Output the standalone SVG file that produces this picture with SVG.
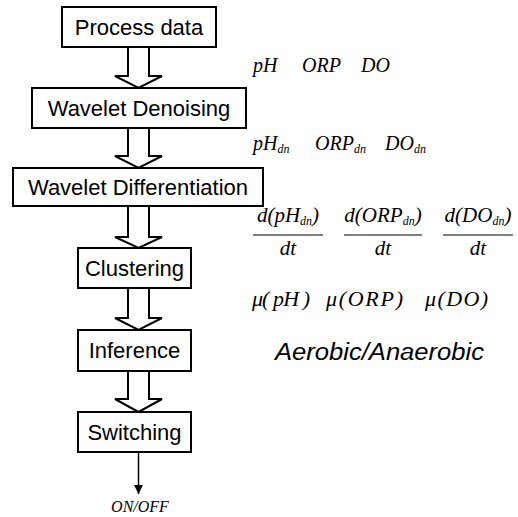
<svg xmlns="http://www.w3.org/2000/svg" width="518" height="517" viewBox="0 0 518 517">
  <style>
    .box { fill: #fff; stroke: #000; stroke-width: 2; }
    .lbl { font-family: "Liberation Sans", Arial, sans-serif; font-size: 22px; text-anchor: middle; fill: #000; }
    .blk { fill: #fff; stroke: #000; stroke-width: 2; stroke-linejoin: miter; }
    .math { font-family: "Liberation Serif", "Times New Roman", serif; font-style: italic; font-size: 20px; fill: #000; }
    .mu { font-size: 22px; }
    .sub { font-size: 12px; }
    .up { font-family: "Liberation Serif", "Times New Roman", serif; font-style: italic; font-size: 21px; text-anchor: middle; }
    .frac { stroke: #000; stroke-width: 1.2; }
    .state { font-family: "Liberation Sans", Arial, sans-serif; font-style: italic; font-size: 23px; fill: #000; }
  </style>
  <defs>
    <marker id="tip" viewBox="0 0 10 10" refX="10" refY="5" markerWidth="9" markerHeight="9" markerUnits="userSpaceOnUse" orient="auto">
      <path d="M0,0 L10,5 L0,10 z" fill="#000"/>
    </marker>
  </defs>

  <!-- block arrows between stages -->
  <g id="connectors">
    <polygon class="blk" points="128,47 149,47 149,76 162,76 138.5,88 115,76 128,76"/>
    <polygon class="blk" points="128,128 149,128 149,156 162,156 138.5,168 115,156 128,156"/>
    <polygon class="blk" points="128,206 149,206 149,237 162,237 138.5,248 115,237 128,237"/>
    <polygon class="blk" points="128,288 149,288 149,318 162,318 138.5,330 115,318 128,318"/>
    <polygon class="blk" points="128,371 149,371 149,399 162,399 138.5,412 115,399 128,399"/>
    <line x1="138.5" y1="452" x2="138.5" y2="494" stroke="#000" stroke-width="1.5" marker-end="url(#tip)"/>
  </g>

  <g id="process-data">
    <rect class="box" x="62" y="7" width="154" height="40"/>
    <text class="lbl" x="139" y="35">Process data</text>
  </g>
  <g id="wavelet-denoising">
    <rect class="box" x="32" y="88" width="214" height="40"/>
    <text class="lbl" x="139" y="116">Wavelet Denoising</text>
  </g>
  <g id="wavelet-differentiation">
    <rect class="box" x="13" y="168" width="250" height="38"/>
    <text class="lbl" x="138" y="195">Wavelet Differentiation</text>
  </g>
  <g id="clustering">
    <rect class="box" x="78" y="248" width="113" height="40"/>
    <text class="lbl" x="134.5" y="276">Clustering</text>
  </g>
  <g id="inference">
    <rect class="box" x="78" y="330" width="113" height="41"/>
    <text class="lbl" x="134.5" y="358">Inference</text>
  </g>
  <g id="switching">
    <rect class="box" x="78" y="412" width="113" height="40"/>
    <text class="lbl" x="134.5" y="440">Switching</text>
  </g>

  <!-- signal annotations -->
  <g id="raw-signals" class="math">
    <text x="253" y="72">pH</text>
    <text x="302" y="72">ORP</text>
    <text x="361" y="72">DO</text>
  </g>
  <g id="denoised-signals" class="math">
    <text x="253" y="150">pH<tspan class="sub" dy="3">dn</tspan></text>
    <text x="315" y="150">ORP<tspan class="sub" dy="3">dn</tspan></text>
    <text x="385" y="150">DO<tspan class="sub" dy="3">dn</tspan></text>
  </g>
  <g id="derivatives">
    <text class="up" x="288" y="222">d(pH<tspan class="sub" dy="3">dn</tspan><tspan dy="-3">)</tspan></text>
    <line class="frac" x1="253" y1="235" x2="323" y2="235"/>
    <text class="up" x="288" y="255">dt</text>
    <text class="up" x="383" y="222">d(ORP<tspan class="sub" dy="3">dn</tspan><tspan dy="-3">)</tspan></text>
    <line class="frac" x1="344" y1="235" x2="422" y2="235"/>
    <text class="up" x="383" y="255">dt</text>
    <text class="up" x="478" y="222">d(DO<tspan class="sub" dy="3">dn</tspan><tspan dy="-3">)</tspan></text>
    <line class="frac" x1="443" y1="235" x2="513" y2="235"/>
    <text class="up" x="478" y="255">dt</text>
  </g>
  <g id="memberships" class="math mu">
    <text x="252" y="306" textLength="58" lengthAdjust="spacing">μ( pH )</text>
    <text x="326" y="306" textLength="77" lengthAdjust="spacing">μ(ORP)</text>
    <text x="425" y="306" textLength="63" lengthAdjust="spacing">μ(DO)</text>
  </g>
  <text id="state" class="state" x="275" y="360" textLength="209" lengthAdjust="spacingAndGlyphs">Aerobic/Anaerobic</text>
  <text id="output" x="140" y="512" font-family="'Liberation Serif', 'Times New Roman', serif" font-style="italic" font-size="16" text-anchor="middle">ON/OFF</text>
</svg>
